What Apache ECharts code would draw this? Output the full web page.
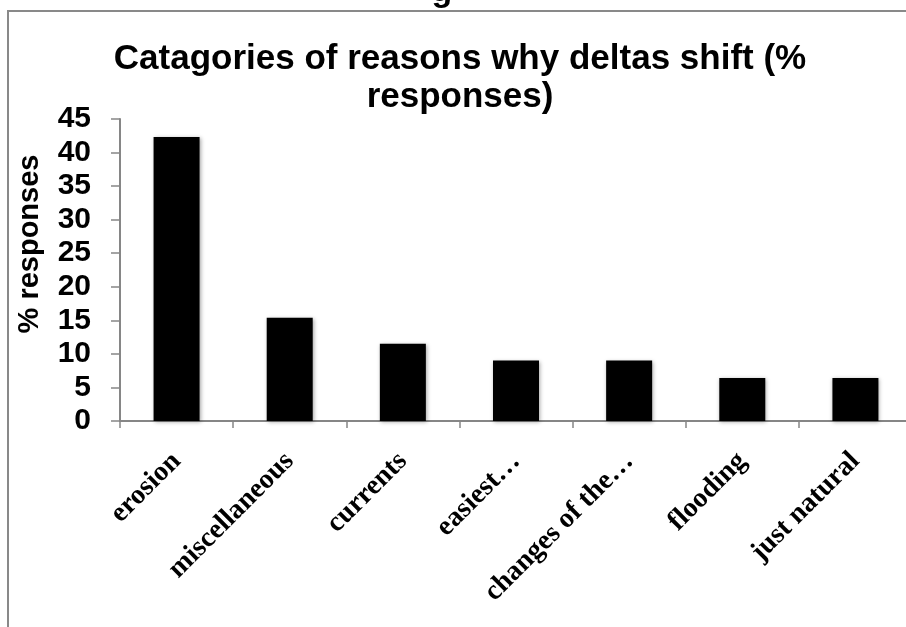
<!DOCTYPE html>
<html>
<head>
<meta charset="utf-8">
<script src="https://cdn.jsdelivr.net/npm/echarts@6/dist/echarts.min.js"></script>
<style>
html,body{margin:0;padding:0;background:#fff;}
#chart{width:906px;height:627px;}
</style>
</head>
<body>
<div id="chart"></div>
<script>
var categories = ['erosion', 'miscellaneous', 'currents', 'easiest\u2026', 'changes of the\u2026', 'flooding', 'just natural'];
var responses = [42.3, 15.4, 11.5, 9.0, 9.0, 6.4, 6.4];
var yTicks = {min: 0, max: 45, interval: 5};
var titleText = 'Catagories of reasons why deltas shift (%\nresponses)';
var yName = '% responses';

var chart = echarts.init(document.getElementById('chart'), null, {renderer: 'canvas'});
chart.setOption({
  backgroundColor: '#ffffff',
  animation: false,
  title: {
    text: titleText,
    left: 455,
    top: 35,
    textAlign: 'center',
    textStyle: {
      fontFamily: 'Liberation Sans',
      fontWeight: 'bold',
      fontSize: 35,
      lineHeight: 38,
      color: '#000'
    }
  },
  graphic: [
    {
      type: 'rect', z: -10, silent: true,
      shape: {x: 8, y: 11, width: 1200, height: 1200},
      style: {fill: null, stroke: '#898989', lineWidth: 2}
    },
    {
      type: 'text', z: -5, silent: true,
      x: 442, y: 9,
      style: {text: 'g', font: 'bold 34px "Liberation Sans"', fill: '#000', align: 'center', verticalAlign: 'bottom'}
    }
  ],
  grid: {
    left: 120,
    top: 119,
    width: 792,
    height: 302,
    containLabel: false,
    outerBoundsMode: 'none'
  },
  xAxis: {
    type: 'category',
    data: categories,
    boundaryGap: true,
    axisLine: {lineStyle: {color: '#868686', width: 2}},
    axisTick: {show: true, inside: false, length: 7, alignWithLabel: false, lineStyle: {color: '#868686', width: 1.5}},
    axisLabel: {
      interval: 0,
      rotate: 45,
      margin: 36,
      color: '#000',
      fontFamily: 'Liberation Serif',
      fontWeight: 'bold',
      fontSize: 28
    },
    splitLine: {show: false}
  },
  yAxis: {
    type: 'value',
    min: yTicks.min,
    max: yTicks.max,
    interval: yTicks.interval,
    name: yName,
    nameLocation: 'middle',
    nameGap: 76,
    nameRotate: 90,
    nameTextStyle: {
      fontFamily: 'Liberation Sans',
      fontWeight: 'bold',
      fontSize: 29,
      color: '#000',
      padding: [0, 0, 0, 52]
    },
    axisLine: {show: true, lineStyle: {color: '#868686', width: 2}},
    axisTick: {show: true, inside: false, length: 9, lineStyle: {color: '#868686', width: 1.5}},
    axisLabel: {
      margin: 29,
      color: '#000',
      fontFamily: 'Liberation Sans',
      fontWeight: 'bold',
      fontSize: 30
    },
    splitLine: {show: false}
  },
  series: [{
    type: 'bar',
    data: responses,
    barWidth: 46,
    itemStyle: {
      color: '#000',
      shadowBlur: 4,
      shadowColor: 'rgba(0,0,0,0.35)',
      shadowOffsetX: 1,
      shadowOffsetY: 1
    }
  }]
});
</script>
</body>
</html>
